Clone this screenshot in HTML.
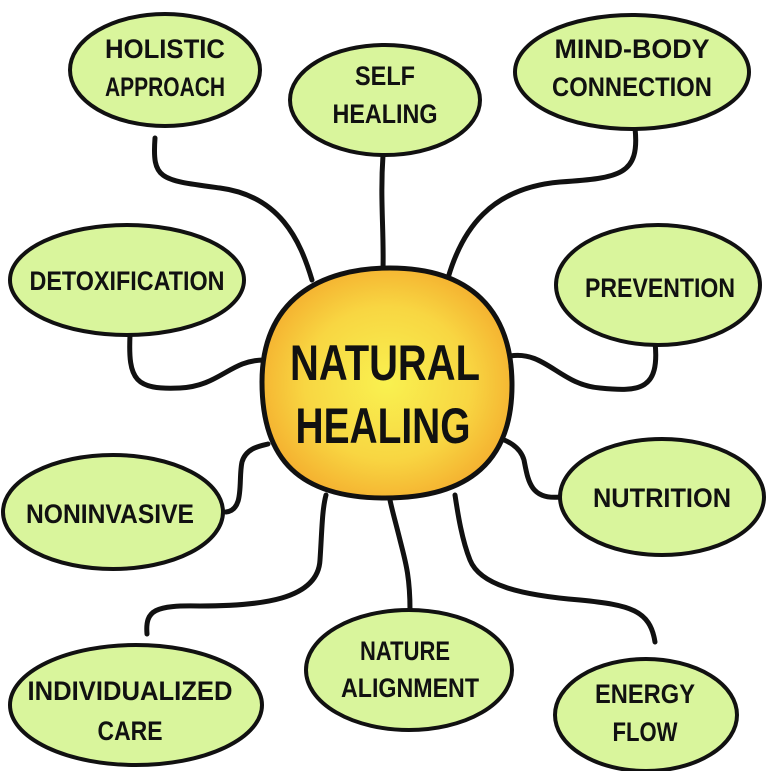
<!DOCTYPE html>
<html><head><meta charset="utf-8"><style>
html,body{margin:0;padding:0;background:#fff;}
svg{display:block}
text{font-family:"Liberation Sans",sans-serif;font-weight:bold;fill:#111;text-anchor:middle}
</style></head><body>
<svg width="768" height="771" viewBox="0 0 768 771" xmlns="http://www.w3.org/2000/svg">
<defs>
<radialGradient id="g" cx="50%" cy="50%" r="55%">
<stop offset="0" stop-color="#f9f150"/><stop offset="0.6" stop-color="#f8d642"/><stop offset="1" stop-color="#f4ad2e"/>
</radialGradient>
</defs>
<g fill="none" stroke="#111" stroke-width="5" stroke-linecap="round">
<path d="M155 138 C152 180 160 180 220 188 C280 196 300 240 312 280"/>
<path d="M383 155 C380 200 384 230 383 270"/>
<path d="M635 128 C640 175 620 178 560 182 C490 188 462 230 448 278"/>
<path d="M130 335 C128 380 135 390 180 388 C220 386 230 360 264 360"/>
<path d="M655 342 C660 390 640 392 600 388 C560 385 545 350 510 356"/>
<path d="M226 512 C245 510 238 480 242 462 C246 448 260 446 268 444"/>
<path d="M560 497 C530 500 528 480 524 460 C520 446 506 440 498 438"/>
<path d="M147 634 C145 610 155 605 200 606 C260 606 318 600 320 560 C322 530 322 510 326 495"/>
<path d="M410 610 C410 575 405 560 400 540 C395 520 392 510 390 500"/>
<path d="M655 642 C650 610 630 605 580 600 C520 595 480 585 470 560 C462 540 458 515 455 495"/>
</g>
<g fill="#d9f59c" stroke="#111" stroke-width="4">
<ellipse cx="165" cy="70" rx="95" ry="56"/>
<ellipse cx="385" cy="100" rx="95" ry="55"/>
<ellipse cx="632" cy="72" rx="117" ry="57"/>
<ellipse cx="127" cy="280" rx="117" ry="55"/>
<ellipse cx="658" cy="285" rx="102" ry="60"/>
<ellipse cx="113" cy="512" rx="110" ry="57"/>
<ellipse cx="662" cy="497" rx="102" ry="58"/>
<ellipse cx="136" cy="705" rx="126" ry="60"/>
<ellipse cx="409" cy="670" rx="103" ry="60"/>
<ellipse cx="646" cy="715" rx="91" ry="56"/>
</g>
<path d="M262 382 C262 300 320 268 390 268 C470 268 512 310 512 385 C512 460 470 498 385 498 C300 498 262 460 262 382Z" fill="url(#g)" stroke="#111" stroke-width="5"/>
<g font-size="27">
<text x="165" y="58" textLength="120" lengthAdjust="spacingAndGlyphs">HOLISTIC</text>
<text x="165" y="96" textLength="120" lengthAdjust="spacingAndGlyphs">APPROACH</text>
<text x="385" y="85" textLength="60" lengthAdjust="spacingAndGlyphs">SELF</text>
<text x="385" y="123" textLength="105" lengthAdjust="spacingAndGlyphs">HEALING</text>
<text x="632" y="58" textLength="155" lengthAdjust="spacingAndGlyphs">MIND-BODY</text>
<text x="632" y="96" textLength="160" lengthAdjust="spacingAndGlyphs">CONNECTION</text>
<text x="127" y="290" textLength="195" lengthAdjust="spacingAndGlyphs">DETOXIFICATION</text>
<text x="660" y="297" textLength="150" lengthAdjust="spacingAndGlyphs">PREVENTION</text>
<text x="110" y="523" textLength="168" lengthAdjust="spacingAndGlyphs">NONINVASIVE</text>
<text x="662" y="507" textLength="138" lengthAdjust="spacingAndGlyphs">NUTRITION</text>
<text x="130" y="700" textLength="205" lengthAdjust="spacingAndGlyphs">INDIVIDUALIZED</text>
<text x="130" y="740" textLength="65" lengthAdjust="spacingAndGlyphs">CARE</text>
<text x="405" y="660" textLength="90" lengthAdjust="spacingAndGlyphs">NATURE</text>
<text x="410" y="697" textLength="138" lengthAdjust="spacingAndGlyphs">ALIGNMENT</text>
<text x="645" y="703" textLength="100" lengthAdjust="spacingAndGlyphs">ENERGY</text>
<text x="645" y="741" textLength="65" lengthAdjust="spacingAndGlyphs">FLOW</text>
</g>
<g font-size="50">
<text x="385" y="380" textLength="190" lengthAdjust="spacingAndGlyphs">NATURAL</text>
<text x="383" y="443" textLength="175" lengthAdjust="spacingAndGlyphs">HEALING</text>
</g>
</svg>
</body></html>
